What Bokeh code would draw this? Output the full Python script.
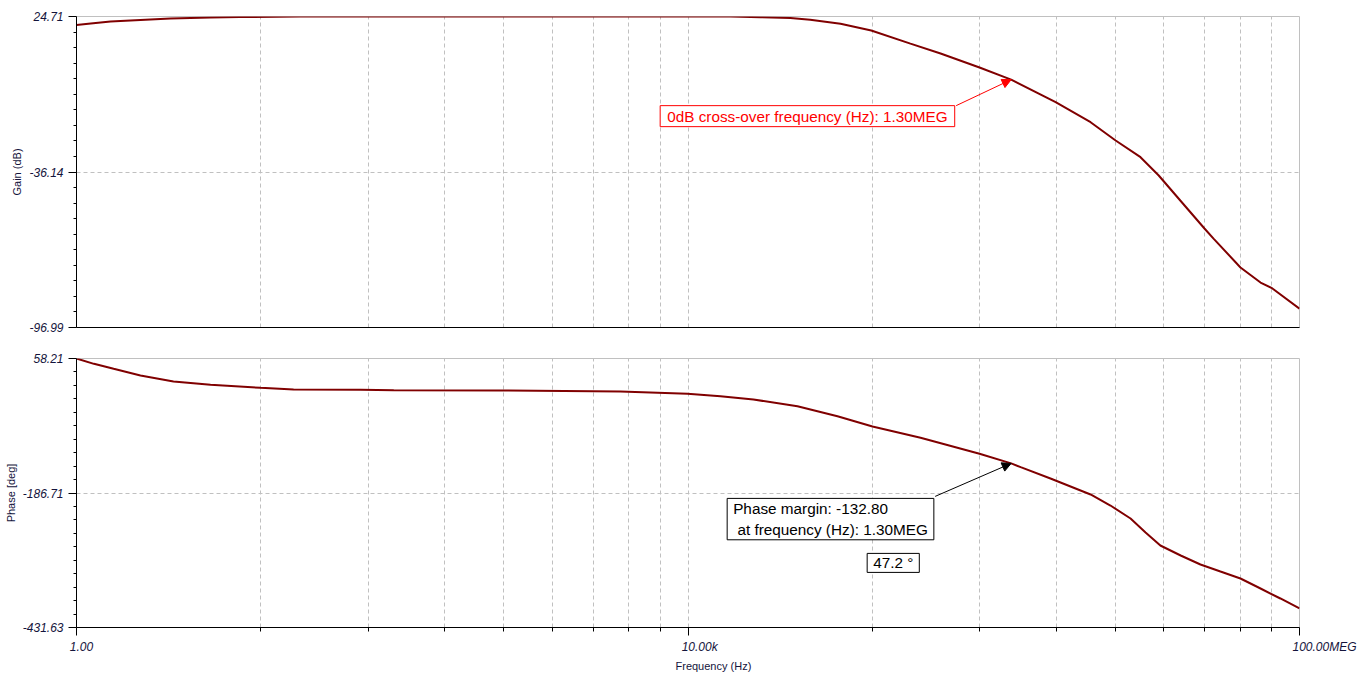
import numpy as np
from bokeh.plotting import figure
from bokeh.layouts import column
from bokeh.models import (FixedTicker, Label, Arrow, NormalHead, Range1d,
                          CustomJSTickFormatter, Title)
from bokeh.embed import file_html
from bokeh.resources import INLINE

# ---------------- data ----------------
gain_freq = [1, 1.24, 1.67, 2.62, 4.12, 7.53, 11.7, 29.2, 316, 3160, 19000, 29800,
             46800, 63000, 99500, 158000, 285000, 449000, 807000, 1.30e6, 2.54e6,
             4.30e6, 6.27e6, 9.12e6, 1.20e7, 1.66e7, 2.39e7, 2.74e7, 4.11e7, 5.56e7,
             6.65e7, 1e8]
gain_db = [21.4, 21.97, 22.75, 23.34, 23.9, 24.3, 24.5, 24.68, 24.71, 24.71, 24.68, 24.44,
           24.1, 23.4, 21.85, 19.23, 14.1, 10.23, 4.75, 0.0, -8.83,
           -16.66, -23.8, -30.35, -37.5, -47.3, -58.25, -62.2, -73.5, -79.4,
           -81.7, -89.6]

phase_freq = [1, 1.30, 1.75, 2.62, 4.31, 7.53, 16, 26.3, 72, 119, 593, 3610, 9930,
              16300, 26800, 52000, 95000, 161000, 332000, 807000, 1.30e6, 1.5e6,
              2.35e6, 4.3e6, 5.8e6, 7.85e6, 9.84e6, 1.23e7, 1.67e7, 2.25e7, 3.04e7,
              4.11e7, 5.56e7, 7.5e7, 1e8]
phase_deg = [58.21, 48.5, 39.4, 27.2, 16.3, 10.3, 4.8, 1.76, 1.2, 0.5, 0.0, -1.9, -6.1,
             -10.4, -16.5, -28.7, -46.9, -65.6, -86.2, -115.3, -132.8, -139.7,
             -160.3, -189.4, -209.5, -233.2, -258.6, -282.3, -300.5, -316.9, -329.7,
             -342.4, -360.6, -378.8, -397.0]

gain_ticks = [-96.99, -36.14, 24.71]
phase_ticks = [-431.63, -186.71, 58.21]
freq_ticks = [1, 1e4, 1e8]
freq_tick_labels = ["1.00", "10.00k", "100.00MEG"]

crossover_freq = 1.30e6
crossover_gain = 0.0
phase_margin_value = -132.80
phase_margin_deg = 47.2

# ---------------- styling / layout ----------------
FONT = "Liberation Sans"
TICK_COLOR = "#14143c"
LINE_COLOR = "#800000"
GRID_COLOR = "#c0c0c0"
FRAME_W = 1223
PX_PER_DEC = FRAME_W / 8.0
LABEL_PAD = [3, 7, 15]   # leading no-break spaces: labels start just left of their ticks

# vertical grid positions (minor divisions of each 4-decade block)
grid_x = [b * k ** 4 for b in (1, 1e4) for k in range(2, 10)] + [1e4]
minor_x = [b * k ** 4 for b in (1, 1e4) for k in range(2, 10)]


def y_minor(ticks):
    lo, mid, hi = ticks
    return list(np.linspace(lo, mid, 11)[1:-1]) + list(np.linspace(mid, hi, 11)[1:-1])


def gx(f, dpx):
    return f * 10 ** (dpx / PX_PER_DEC)


def make_fig(yticks, frame_h, top, bottom, ylabel):
    p = figure(x_axis_type="log", x_range=Range1d(freq_ticks[0], freq_ticks[-1]),
               y_range=Range1d(yticks[0], yticks[-1]),
               frame_width=FRAME_W, frame_height=frame_h,
               min_border_left=76, min_border_right=58,
               min_border_top=top, min_border_bottom=bottom,
               toolbar_location=None, output_backend="svg")
    p.outline_line_color = GRID_COLOR
    p.background_fill_color = "white"
    p.border_fill_color = "white"

    p.xgrid.ticker = FixedTicker(ticks=grid_x)
    p.xgrid.grid_line_color = GRID_COLOR
    p.xgrid.grid_line_dash = "4 3"
    p.ygrid.ticker = FixedTicker(ticks=[yticks[1]])
    p.ygrid.grid_line_color = GRID_COLOR
    p.ygrid.grid_line_dash = "4 3"

    ax = p.yaxis[0]
    ax.ticker = FixedTicker(ticks=yticks, minor_ticks=y_minor(yticks))
    ax.major_label_overrides = {v: f"{v:.2f}" for v in yticks}
    ax.axis_line_color = "black"
    ax.major_tick_line_color = "black"
    ax.minor_tick_line_color = "black"
    ax.major_tick_out = 8
    ax.major_tick_in = 0
    ax.minor_tick_out = 3
    ax.minor_tick_in = 0
    ax.major_label_standoff = 5
    ax.major_label_text_font = FONT
    ax.major_label_text_font_style = "italic"
    ax.major_label_text_font_size = "12px"
    ax.major_label_text_color = TICK_COLOR
    ax.axis_label = ylabel
    ax.axis_label_standoff = 3
    ax.axis_label_text_font = FONT
    ax.axis_label_text_font_style = "normal"
    ax.axis_label_text_font_size = "11px"
    ax.axis_label_text_color = TICK_COLOR
    return p


# ---------------- gain panel ----------------
p1 = make_fig(gain_ticks, 311, 16, 15, "Gain (dB)")
xa = p1.xaxis[0]
xa.ticker = FixedTicker(ticks=[])
xa.axis_line_color = "black"
xa.major_tick_line_color = None
xa.minor_tick_line_color = None
xa.major_label_text_color = None
p1.line(gain_freq, gain_db, line_color=LINE_COLOR, line_width=2)

db_per_px = (gain_ticks[-1] - gain_ticks[0]) / 311.0
p1.add_layout(Arrow(end=NormalHead(size=9, fill_color="red", line_color="red"),
                    x_start=gx(crossover_freq, -55), y_start=crossover_gain - 26 * db_per_px,
                    x_end=crossover_freq, y_end=crossover_gain,
                    line_color="red", line_width=1))
p1.add_layout(Label(x=crossover_freq, y=crossover_gain, x_offset=-351, y_offset=-26,
                    text="0dB cross-over frequency (Hz): 1.30MEG",
                    text_font=FONT, text_font_size="15.3px", text_color="red",
                    text_align="left", text_baseline="top",
                    border_line_color="red", border_line_width=1,
                    background_fill_color="white", padding=(7, 2)))

# ---------------- phase panel ----------------
p2 = make_fig(phase_ticks, 269, 16, 45, "Phase [deg]")
xb = p2.xaxis[0]
xb.ticker = FixedTicker(ticks=freq_ticks, minor_ticks=minor_x)
xb.formatter = CustomJSTickFormatter(
    args=dict(labels=[("\u00a0" * n) + t for n, t in zip(LABEL_PAD, freq_tick_labels)]),
    code="return labels[index];")
xb.axis_line_color = "black"
xb.major_tick_line_color = "black"
xb.minor_tick_line_color = "black"
xb.major_tick_out = 8
xb.major_tick_in = 0
xb.minor_tick_out = 4
xb.minor_tick_in = 0
xb.major_label_standoff = 4
xb.major_label_text_font = FONT
xb.major_label_text_font_style = "italic"
xb.major_label_text_font_size = "12px"
xb.major_label_text_color = TICK_COLOR
p2.add_layout(Title(text="Frequency (Hz)", align="left", offset=599, standoff=3,
                    text_font=FONT, text_font_size="11px", text_font_style="normal",
                    text_color=TICK_COLOR), "below")

p2.line(phase_freq, phase_deg, line_color=LINE_COLOR, line_width=2)

deg_per_px = (phase_ticks[-1] - phase_ticks[0]) / 269.0
p2.add_layout(Arrow(end=NormalHead(size=9, fill_color="black", line_color="black"),
                    x_start=gx(crossover_freq, -76), y_start=phase_margin_value - 33 * deg_per_px,
                    x_end=crossover_freq, y_end=phase_margin_value,
                    line_color="black", line_width=1))
p2.add_layout(Label(x=crossover_freq, y=phase_margin_value, x_offset=-284, y_offset=-35,
                    text="Phase margin: -132.80\n\u00a0at frequency (Hz): 1.30MEG",
                    text_font=FONT, text_font_size="15.3px", text_color="black",
                    text_align="left", text_baseline="top",
                    border_line_color="black", border_line_width=1,
                    background_fill_color="white", padding=(6, 2)))
p2.add_layout(Label(x=crossover_freq, y=phase_margin_value, x_offset=-144, y_offset=-90,
                    text=f"{phase_margin_deg:.1f} \u00b0",
                    text_font=FONT, text_font_size="15.3px", text_color="black",
                    text_align="left", text_baseline="top",
                    border_line_color="black", border_line_width=1,
                    background_fill_color="white", padding=(6, 1)))

layout = column(p1, p2)
open("out.html", "w").write(file_html(layout, INLINE))
